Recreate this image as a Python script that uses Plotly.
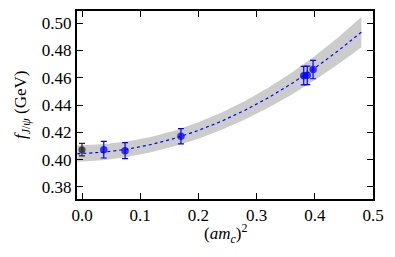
import plotly.graph_objects as go

# data points
cont_x = [0.0]
cont_y = [0.4073]
cont_err = [0.0046]

lat_x = [0.0374, 0.074, 0.170, 0.381, 0.387, 0.397]
lat_y = [0.4073, 0.4066, 0.4171, 0.4615, 0.4617, 0.4659]
lat_err = [0.0061, 0.0058, 0.0056, 0.0068, 0.0068, 0.0067]

# fit curve and band
fit_x = [-0.008, 0.0, 0.04, 0.08, 0.12, 0.16, 0.20, 0.24, 0.28, 0.32, 0.36, 0.40, 0.44, 0.48]
fit_y = [0.4044, 0.4045, 0.40557, 0.40779, 0.41116, 0.41569, 0.42136, 0.42819, 0.43616, 0.4453, 0.45559, 0.46702, 0.47961, 0.49334]
fit_half = [0.006, 0.006, 0.0058, 0.0056, 0.0056, 0.0057, 0.006, 0.0063, 0.0067, 0.0073, 0.008, 0.0088, 0.0098, 0.011]

x_ticks = [0.0, 0.1, 0.2, 0.3, 0.4, 0.5]
x_labels = ["0.0", "0.1", "0.2", "0.3", "0.4", "0.5"]
y_ticks = [0.38, 0.40, 0.42, 0.44, 0.46, 0.48, 0.50]
y_labels = ["0.38", "0.40", "0.42", "0.44", "0.46", "0.48", "0.50"]

x_title = "(<i>am</i><sub><i>c</i></sub>)<sup>2</sup>"
y_title = "<i>f</i><sub><i>J</i>/<i>ψ</i></sub> (GeV)"

upper = [c + h for c, h in zip(fit_y, fit_half)]
lower = [c - h for c, h in zip(fit_y, fit_half)]

fig = go.Figure()
fig.add_trace(go.Scatter(x=fit_x + fit_x[::-1], y=upper + lower[::-1], fill="toself",
                         fillcolor="rgb(204,204,204)", line=dict(width=0), mode="lines",
                         hoverinfo="skip", showlegend=False))
fig.add_trace(go.Scatter(x=fit_x, y=fit_y, mode="lines",
                         line=dict(color="blue", width=1.2, dash="3px,3px"), showlegend=False))
fig.add_trace(go.Scatter(x=cont_x, y=cont_y, mode="markers",
                         marker=dict(color="rgba(40,40,40,0.8)", size=7),
                         error_y=dict(type="data", array=cont_err, color="rgb(40,40,40)", thickness=1.2, width=3),
                         showlegend=False))
fig.add_trace(go.Scatter(x=lat_x, y=lat_y, mode="markers",
                         marker=dict(color="rgba(0,0,255,0.75)", size=7.5),
                         error_y=dict(type="data", array=lat_err, color="blue", thickness=1.2, width=3),
                         showlegend=False))

FONT = "Liberation Serif"
axis_common = dict(showline=True, linecolor="black", linewidth=2, mirror="ticks",
                   ticks="inside", ticklen=6, tickwidth=1.2, tickcolor="black",
                   showgrid=False, zeroline=False, automargin=False,
                   tickfont=dict(family=FONT, size=17, color="black"))

fig.update_xaxes(range=[-0.0086, 0.5], tickvals=x_ticks, ticktext=x_labels, **axis_common)
fig.update_yaxes(range=[0.3712, 0.5088], tickvals=y_ticks, ticktext=y_labels, **axis_common)

fig.add_annotation(text=x_title, xref="paper", yref="paper", x=0.5, y=(199 - 233) / 188,
                   showarrow=False, xanchor="center", yanchor="middle",
                   font=dict(family=FONT, size=17, color="black"))
fig.add_annotation(text=y_title, xref="paper", yref="paper", x=(22 - 77) / 296, y=0.5,
                   showarrow=False, xanchor="center", yanchor="middle", textangle=-90,
                   font=dict(family=FONT, size=17, color="black"))

# page body has an 8px default margin; figure sized so the plot area lands where the reference has it
fig.update_layout(width=387, height=249, margin=dict(l=69, r=22, t=3, b=58),
                  plot_bgcolor="white", paper_bgcolor="white",
                  font=dict(family=FONT))

fig.write_html("out.html")
